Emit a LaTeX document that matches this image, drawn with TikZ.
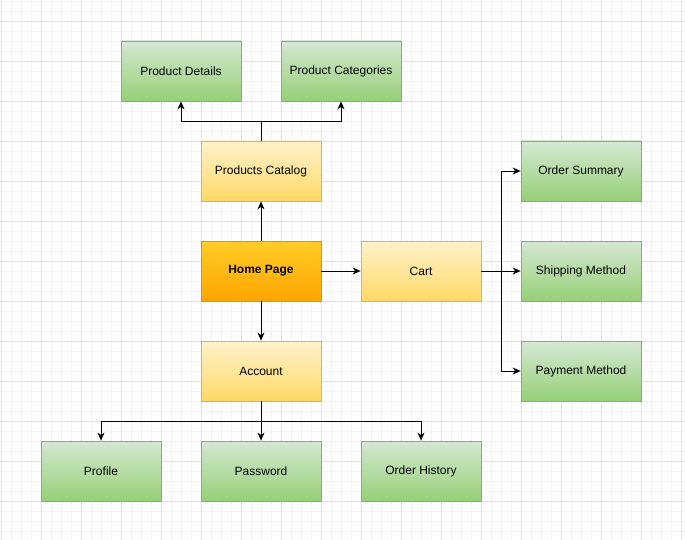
\documentclass[tikz,border=0pt]{standalone}
\usepackage{fontspec}
\setmainfont{Liberation Sans}
\usetikzlibrary{arrows.meta}
\definecolor{gminor}{HTML}{F3F3F3}
\definecolor{gmajor}{HTML}{E2E2E2}
\definecolor{gtop}{HTML}{D5E8D4}
\definecolor{gbot}{HTML}{97D077}
\definecolor{gline}{HTML}{82B366}
\definecolor{ytop}{HTML}{FFF2CC}
\definecolor{ybot}{HTML}{FFD966}
\definecolor{yline}{HTML}{D6B656}
\definecolor{otop}{HTML}{FFCD28}
\definecolor{obot}{HTML}{FFA500}
\definecolor{oline}{HTML}{D79B00}
\tikzset{
  basebox/.style={minimum width=120pt, minimum height=60pt, inner sep=0pt, line width=0.8pt, font=\fontsize{12}{14}\selectfont, text=black},
  greenbox/.style={basebox, draw=gline, top color=gtop, bottom color=gbot},
  yellowbox/.style={basebox, draw=yline, top color=ytop, bottom color=ybot},
  homebox/.style={basebox, draw=oline, top color=otop, bottom color=obot, font=\fontsize{12}{14}\selectfont\bfseries},
  conn/.style={draw=black, line width=0.9pt, -{Stealth[length=8pt,width=7pt,inset=2.5pt]}},
  minorgrid/.style={draw=gminor, line width=0.8pt},
  majorgrid/.style={draw=gmajor, line width=0.8pt}
}
\begin{document}
\begin{tikzpicture}[x=1pt,y=-1pt]
\useasboundingbox (0,0) rectangle (685,540);
\fill[white] (0,0) rectangle (685,540);
% grid
\foreach \x in {1,11,...,681} \draw[minorgrid] (\x,0) -- (\x,540);
\foreach \y in {1,11,...,531} \draw[minorgrid] (0,\y) -- (685,\y);
\foreach \x in {1,41,...,681} \draw[majorgrid] (\x,0) -- (\x,540);
\foreach \y in {21,61,...,501} \draw[majorgrid] (0,\y) -- (685,\y);
% nodes
\node[greenbox] (pd) at (181,71) {Product Details};
\node[greenbox] (pc) at (341,71) {Product Categories};
\node[yellowbox] (cat) at (261,171) {Products Catalog};
\node[homebox] (home) at (261,271) {Home Page};
\node[yellowbox] (cart) at (421,271) {Cart};
\node[greenbox] (os) at (581,171) {Order Summary};
\node[greenbox] (sm) at (581,271) {Shipping Method};
\node[greenbox] (pm) at (581,371) {Payment Method};
\node[yellowbox] (acc) at (261,371) {Account};
\node[greenbox] (prof) at (101,471) {Profile};
\node[greenbox] (pw) at (261,471) {Password};
\node[greenbox] (oh) at (421,471) {Order History};
% junctions
\coordinate (catj) at (261,121);
\coordinate (cartj) at (501,271);
\coordinate (accj) at (261,421);
% connectors
\draw[conn] (home.north) -- (cat.south);
\draw[conn] (cat.north) -- (catj) -| (pd.south);
\draw[conn] (cat.north) -- (catj) -| (pc.south);
\draw[conn] (home.east) -- (cart.west);
\draw[conn] (cart.east) -- (cartj) |- (os.west);
\draw[conn] (cart.east) -- (sm.west);
\draw[conn] (cart.east) -- (cartj) |- (pm.west);
\draw[conn] (home.south) -- (acc.north);
\draw[conn] (acc.south) -- (accj) -| (prof.north);
\draw[conn] (acc.south) -- (pw.north);
\draw[conn] (acc.south) -- (accj) -| (oh.north);
\end{tikzpicture}
\end{document}
